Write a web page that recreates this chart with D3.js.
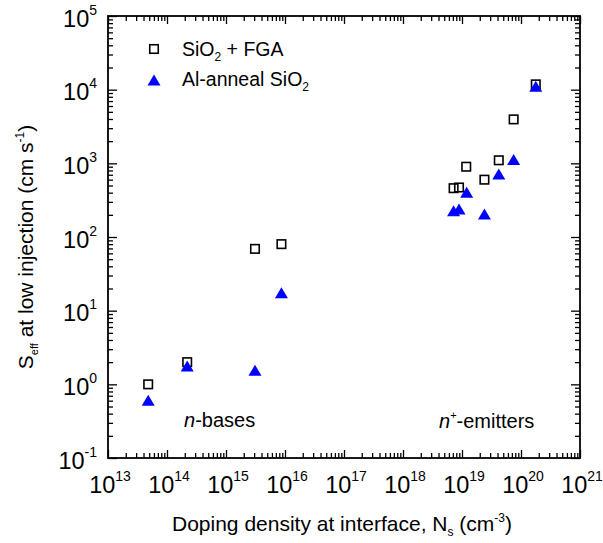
<!DOCTYPE html>
<html>
<head>
<meta charset="utf-8">
<script src="https://cdn.jsdelivr.net/npm/d3@7"></script>
<style>
  body { margin: 0; background: #fff; }
  svg { font-family: "Liberation Sans", Arial, Helvetica, sans-serif; }
</style>
</head>
<body>
<div id="chart"></div>
<script>
// SiO2 + FGA (open squares)
const fgaDoping = [4.8e13, 2.2e14, 3.1e15, 8.7e15, 7.2e18, 8.9e18, 1.18e19, 2.4e19, 4.2e19, 7.5e19, 1.78e20];
const fgaSeff   = [1.0, 2.0, 69, 80, 460, 470, 900, 600, 1100, 3950, 11800];
// Al-anneal SiO2 (filled triangles)
const alDoping = [4.8e13, 2.2e14, 3.1e15, 8.7e15, 7.2e18, 8.9e18, 1.2e19, 2.4e19, 4.2e19, 7.5e19, 1.78e20];
const alSeff   = [0.61, 1.78, 1.55, 17.5, 227, 239, 405, 205, 715, 1130, 11150];

const xDecades = [13, 14, 15, 16, 17, 18, 19, 20, 21];
const yDecades = [-1, 0, 1, 2, 3, 4, 5];

const width = 603, height = 543;
const margin = {top: 16, right: 23, bottom: 85, left: 108};
const plotW = width - margin.left - margin.right,
      plotH = height - margin.top - margin.bottom;

const x = d3.scaleLog().domain([1e13, 1e21]).range([0, plotW]);
const y = d3.scaleLog().domain([1e-1, 1e5]).range([plotH, 0]);

const svg = d3.select('#chart').append('svg')
  .attr('width', width)
  .attr('height', height);

const g = svg.append('g')
  .attr('transform', `translate(${margin.left},${margin.top})`);

// split ticks into majors (decades) and minors
const xAll = x.ticks(), yAll = y.ticks();
const isMajor = v => Math.abs(Math.log10(v) - Math.round(Math.log10(v))) < 1e-9;
const xMajor = xAll.filter(isMajor), xMinor = xAll.filter(v => !isMajor(v));
const yMajor = yAll.filter(isMajor), yMinor = yAll.filter(v => !isMajor(v));

function tickAxis(axisFn, scale, values, size, transform) {
  const a = g.append('g')
    .attr('transform', transform || null)
    .call(axisFn(scale).tickValues(values).tickSize(size).tickFormat(''));
  a.select('.domain').remove();
  a.selectAll('line').attr('stroke', '#000').attr('stroke-width', 1.3);
}

// inward ticks on all four sides
tickAxis(d3.axisBottom, x, xMajor, -8, `translate(0,${plotH})`);
tickAxis(d3.axisBottom, x, xMinor, -5, `translate(0,${plotH})`);
tickAxis(d3.axisTop, x, xMajor, -8);
tickAxis(d3.axisTop, x, xMinor, -5);
tickAxis(d3.axisLeft, y, yMajor, -9);
tickAxis(d3.axisLeft, y, yMinor, -5);
tickAxis(d3.axisRight, y, yMajor, -9, `translate(${plotW},0)`);
tickAxis(d3.axisRight, y, yMinor, -5, `translate(${plotW},0)`);

// frame
g.append('rect')
  .attr('width', plotW).attr('height', plotH)
  .attr('fill', 'none').attr('stroke', '#000').attr('stroke-width', 1.8);

// tick labels with superscript exponents
g.selectAll('.xlab').data(xDecades).enter().append('text')
  .attr('class', 'xlab')
  .attr('x', d => x(Math.pow(10, d)) + 2)
  .attr('y', plotH + 35)
  .attr('text-anchor', 'middle')
  .attr('font-size', 23.5)
  .each(function (d) {
    const t = d3.select(this);
    t.append('tspan').text('10');
    t.append('tspan').attr('font-size', 14).attr('dy', -12).text(d);
  });

g.selectAll('.ylab').data(yDecades).enter().append('text')
  .attr('class', 'ylab')
  .attr('x', -11)
  .attr('y', d => y(Math.pow(10, d)) + 10.5)
  .attr('text-anchor', 'end')
  .attr('font-size', 23.5)
  .each(function (d) {
    const t = d3.select(this);
    t.append('tspan').text('10');
    t.append('tspan').attr('font-size', 14).attr('dy', -12).text(d);
  });

// axis titles
const xt = svg.append('text')
  .attr('x', margin.left + plotW / 2 - 2)
  .attr('y', 531)
  .attr('text-anchor', 'middle')
  .attr('font-size', 21);
xt.append('tspan').text('Doping density at interface, N');
xt.append('tspan').attr('font-size', 12).attr('dy', 5).text('s');
xt.append('tspan').attr('dy', -5).text(' (cm');
xt.append('tspan').attr('font-size', 12).attr('dy', -9).text('-3');
xt.append('tspan').attr('dy', 9).text(')');

const yt = svg.append('text')
  .attr('transform', `translate(33,${margin.top + plotH / 2 + 10}) rotate(-90)`)
  .attr('text-anchor', 'middle')
  .attr('font-size', 21);
yt.append('tspan').text('S');
yt.append('tspan').attr('font-size', 11).attr('dy', 5).text('eff');
yt.append('tspan').attr('dy', -5).text(' at low injection (cm s');
yt.append('tspan').attr('font-size', 12).attr('dy', -9).text('-1');
yt.append('tspan').attr('dy', 9).text(')');

// region labels
const nb = g.append('text')
  .attr('x', 76).attr('y', 427 - margin.top)
  .attr('font-size', 20);
nb.append('tspan').attr('font-style', 'italic').text('n');
nb.append('tspan').text('-bases');

const ne = g.append('text')
  .attr('x', 331).attr('y', 428 - margin.top)
  .attr('font-size', 20);
ne.append('tspan').attr('font-style', 'italic').text('n');
ne.append('tspan').attr('font-size', 11).attr('dy', -9).text('+');
ne.append('tspan').attr('dy', 9).text('-emitters');

// markers
const sq = 8.5, triW = 13, triH = 11;
const triPath = `M0,${-triH / 2}L${triW / 2},${triH / 2}L${-triW / 2},${triH / 2}Z`;

const fga = fgaDoping.map((d, i) => ({x: d, y: fgaSeff[i]}));
const al = alDoping.map((d, i) => ({x: d, y: alSeff[i]}));

g.selectAll('.sq').data(fga).enter().append('rect')
  .attr('class', 'sq')
  .attr('x', d => x(d.x) - sq / 2)
  .attr('y', d => y(d.y) - sq / 2)
  .attr('width', sq).attr('height', sq)
  .attr('fill', 'none').attr('stroke', '#000').attr('stroke-width', 1.6);

g.selectAll('.tri').data(al).enter().append('path')
  .attr('class', 'tri')
  .attr('d', triPath)
  .attr('transform', d => `translate(${x(d.x)},${y(d.y)})`)
  .attr('fill', '#0000ff');

// legend
const leg = svg.append('g');
leg.append('rect')
  .attr('x', 154 - sq / 2).attr('y', 49 - sq / 2)
  .attr('width', sq).attr('height', sq)
  .attr('fill', 'none').attr('stroke', '#000').attr('stroke-width', 1.6);
leg.append('path').attr('d', triPath)
  .attr('transform', 'translate(154,80)')
  .attr('fill', '#0000ff');

const l1 = leg.append('text').attr('x', 182).attr('y', 55.5).attr('font-size', 19.5);
l1.append('tspan').text('SiO');
l1.append('tspan').attr('font-size', 12).attr('dy', 5).text('2');
l1.append('tspan').attr('dy', -5).text(' + FGA');

const l2 = leg.append('text').attr('x', 182).attr('y', 86).attr('font-size', 19.5);
l2.append('tspan').text('Al-anneal SiO');
l2.append('tspan').attr('font-size', 12).attr('dy', 5).text('2');
</script>
</body>
</html>
